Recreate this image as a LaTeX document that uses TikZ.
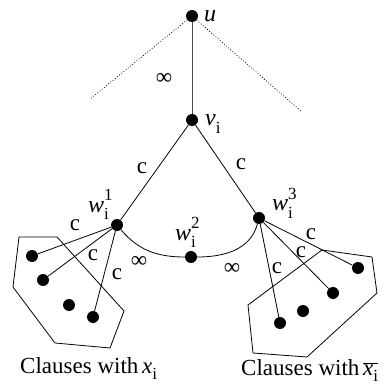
\documentclass[tikz,border=0pt]{standalone}
\usepackage{fontspec}
\setmainfont{Liberation Serif}
\newcommand{\wlab}[1]{\textit{w}\makebox[0pt][l]{\raisebox{-0.3em}{\fontsize{17}{17}\selectfont i}}\raisebox{0.5em}{\fontsize{17}{17}\selectfont #1}}
\newcommand{\sbi}{\raisebox{-0.3em}{\fontsize{17}{17}\selectfont i}}
\begin{document}
\begin{tikzpicture}[x=1pt,y=-1pt,
  dot/.style={circle,fill=black,inner sep=0pt,minimum size=12pt},
  lab/.style={inner sep=0pt,font=\fontsize{24}{24}\selectfont},
  clab/.style={inner sep=0pt,font=\fontsize{23}{23}\selectfont},
  edge/.style={line width=0.8pt},
  poly/.style={line width=0.8pt}]
\useasboundingbox (0,0) rectangle (391,385);
% main nodes
\node[dot] (u) at (192,16) {};
\node[dot] (v) at (192,120) {};
\node[dot] (w1) at (117,225) {};
\node[dot] (w2) at (191,257) {};
\node[dot] (w3) at (259,218) {};
% dotted lines
\coordinate (dl) at (90,99);
\coordinate (dr) at (302,112);
\draw[dotted,line width=0.8pt] (u) -- (dl);
\draw[dotted,line width=0.8pt] (u) -- (dr);
% edges
\draw[edge,black!70] (u) -- (v);
\draw[edge] (v) -- (w1);
\draw[edge] (v) -- (w3);
\draw[edge] (w1) to[out=-50,in=180] (w2);
\draw[edge] (w2) to[out=0,in=-105] (w3);
% labels
\node[lab,anchor=base west] (lu) at (204,22) {\textit{u}};
\node[lab,anchor=base west] (lv) at (205,126) {\textit{v}\sbi};
\node[lab,anchor=base west] (lw1) at (88,212) {\wlab{1}};
\node[lab,anchor=base west] (lw2) at (175,240) {\wlab{2}};
\node[lab,anchor=base west] (lw3) at (272,211) {\wlab{3}};
\node[clab] (inf0) at (164,79) {∞};
\node[clab] (inf1) at (139,262) {∞};
\node[clab] (inf2) at (232,269) {∞};
\node[clab] (c1) at (142,168) {c};
\node[clab] (c2) at (241,164) {c};
% left cluster
\draw[poly] (19,237) -- (57,237) -- (124,311) -- (110,348) -- (55,343) -- (13,287) -- cycle;
\node[dot] (a1) at (32,256) {};
\node[dot] (a2) at (43,280) {};
\node[dot] (a3) at (69,305) {};
\node[dot] (a4) at (93,317) {};
\draw[edge] (w1) -- (a1);
\draw[edge] (w1) -- (a2);
\draw[edge] (w1) -- (a4);
\node[clab] (c3) at (75,225) {c};
\node[clab] (c4) at (93,255) {c};
\node[clab] (c5) at (117,274) {c};
% right cluster
\draw[poly] (248,305) -- (322,250) -- (372,257) -- (377,293) -- (307,357) -- (253,353) -- cycle;
\node[dot] (b1) at (358,268) {};
\node[dot] (b2) at (333,293) {};
\node[dot] (b3) at (303,311) {};
\node[dot] (b4) at (280,323) {};
\draw[edge] (w3) -- (b1);
\draw[edge] (w3) -- (b2);
\draw[edge] (w3) -- (b4);
\node[clab] (c6) at (311,234) {c};
\node[clab] (c7) at (301,252) {c};
\node[clab] (c8) at (277,268) {c};
% captions
\node[clab,anchor=base west] (cap1) at (20,373) {Clauses with\,\textit{x}\sbi};
\node[clab,anchor=base west] (cap2) at (241,375) {Clauses with\,$\overline{\mbox{\textit{x}\sbi}}$};
\end{tikzpicture}
\end{document}
